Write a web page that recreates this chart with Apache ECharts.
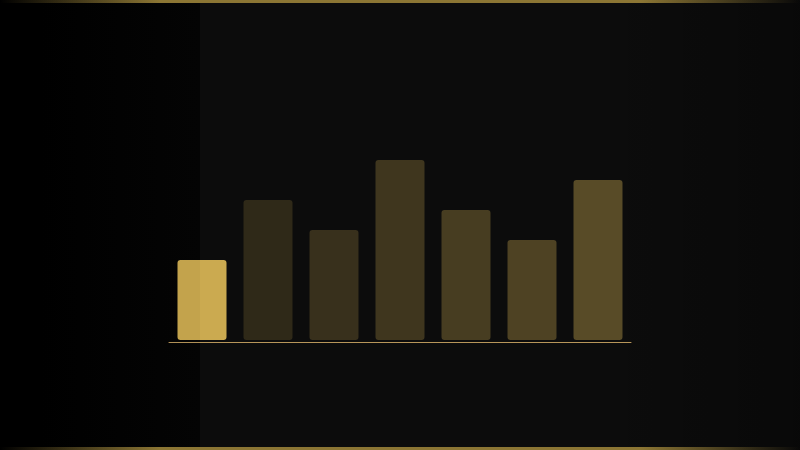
<!DOCTYPE html>
<html><head><meta charset="utf-8">
<script src="https://cdn.jsdelivr.net/npm/echarts@6/dist/echarts.min.js"></script>
<style>html,body{margin:0;padding:0;background:#0c0c0c}#c{width:800px;height:450px}</style>
</head><body><div id="c"></div>
<script>
const categories = ['A','B','C','D','E','F','G'];
const values = [40, 70, 55, 90, 65, 50, 80];
const opacities = [1, 0.19, 0.23, 0.27, 0.31, 0.35, 0.40];

const gold = '203,170,80';
const chart = echarts.init(document.getElementById('c'), null, {renderer:'canvas'});
const edgeGrad = {type:'linear',x:0,y:0,x2:1,y2:0,colorStops:[
  {offset:0,color:'rgba(140,118,52,0)'},
  {offset:0.2,color:'rgba(140,118,52,1)'},
  {offset:0.8,color:'rgba(140,118,52,1)'},
  {offset:1,color:'rgba(140,118,52,0)'}]};
chart.setOption({
  backgroundColor:'#0c0c0c',
  animation:false,
  graphic:[
    {type:'rect',z:-10,silent:true,shape:{x:0,y:0,width:200,height:450},
     style:{fill:{type:'linear',x:0,y:0,x2:1,y2:0,colorStops:[{offset:0,color:'#000'},{offset:1,color:'#050505'}]}}},
    {type:'rect',z:-10,silent:true,shape:{x:600,y:0,width:200,height:450},
     style:{fill:{type:'linear',x:0,y:0,x2:1,y2:0,colorStops:[{offset:0,color:'rgba(0,0,0,0)'},{offset:1,color:'rgba(0,0,0,0.3)'}]}}},
    {type:'rect',z:100,silent:true,shape:{x:0,y:0,width:200,height:450},style:{fill:'rgba(0,0,0,0.04)'}},
    {type:'rect',z:100,silent:true,shape:{x:0,y:0,width:800,height:3},style:{fill:edgeGrad}},
    {type:'rect',z:100,silent:true,shape:{x:0,y:447,width:800,height:3},style:{fill:edgeGrad}}
  ],
  grid:{left:169,right:169,top:140,bottom:108,containLabel:false},
  xAxis:{type:'category',data:categories,
    axisLine:{show:true,onZero:false,lineStyle:{color:'#b8965a',width:1}},
    axisTick:{show:false},axisLabel:{show:false},splitLine:{show:false}},
  yAxis:{type:'value',min:-1,max:100,show:false,splitLine:{show:false}},
  series:[{type:'bar',barWidth:49,
    data:values.map((v,i)=>({value:v,itemStyle:{color:`rgba(${gold},${opacities[i]})`}})),
    itemStyle:{borderRadius:3}}]
});
</script></body></html>
